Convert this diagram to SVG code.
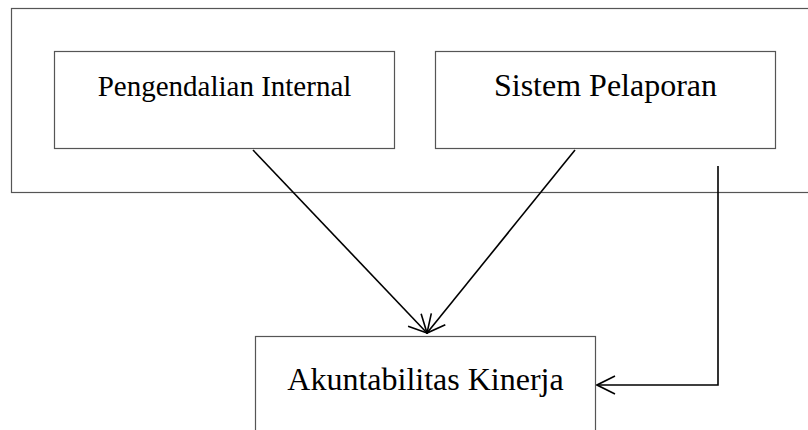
<svg xmlns="http://www.w3.org/2000/svg" width="808" height="430" viewBox="0 0 808 430">
<defs>
<style>
.box{fill:#fff;stroke:#555;stroke-width:1.2}
.frame{fill:none;stroke:#555;stroke-width:1.2}
.lbl{font-family:"Liberation Serif","Times New Roman",serif;fill:#000;text-anchor:middle}
.con{fill:none;stroke:#000;stroke-width:1.6}
</style>
<marker id="arr" viewBox="0 0 20 20" refX="19" refY="10" markerWidth="20" markerHeight="20" markerUnits="userSpaceOnUse" orient="auto">
<path d="M1,1 L19,10 L1,19" fill="none" stroke="#000" stroke-width="1.6"/>
</marker>
</defs>
<rect width="808" height="430" fill="#fff"/>
<rect id="frame" class="frame" x="11.5" y="8.5" width="820" height="184"/>
<g id="pengendalian">
<rect class="box" x="54.5" y="51.5" width="340" height="97"/>
<text class="lbl" x="224.5" y="96" font-size="29">Pengendalian Internal</text>
</g>
<g id="sistem">
<rect class="box" x="435.5" y="51.5" width="340" height="97"/>
<text class="lbl" x="605.5" y="96" font-size="32">Sistem Pelaporan</text>
</g>
<g id="akuntabilitas">
<rect class="box" x="255.5" y="336.5" width="340" height="110"/>
<text class="lbl" x="425.5" y="390" font-size="32">Akuntabilitas Kinerja</text>
</g>
<g id="connectors">
<line class="con" x1="253" y1="150" x2="427" y2="333" marker-end="url(#arr)"/>
<line class="con" x1="575" y1="150" x2="427" y2="333" marker-end="url(#arr)"/>
<polyline class="con" points="718,166 718,385 597,385" marker-end="url(#arr)"/>
</g>
</svg>
